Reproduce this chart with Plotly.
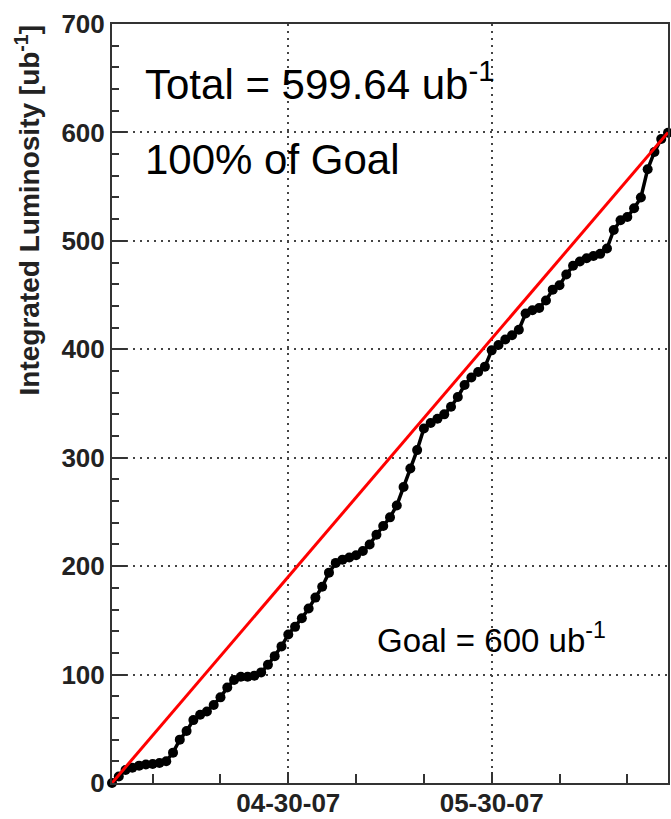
import datetime as dt
import plotly.graph_objects as go

# Daily integrated luminosity (ub^-1), one point per day starting 04-04-07
start_date = "2007-04-04"
lumi = [0, 6, 12, 14, 16, 17, 17.5, 18.5, 20, 28,
        40, 48, 58, 63, 66, 72, 79, 88, 95, 98,
        98, 99, 102, 109, 117, 126, 137, 144, 152, 161,
        171, 181, 194, 203, 206, 208, 210, 214, 220, 229,
        237, 245, 256, 273, 290, 307, 327, 332, 336, 340,
        347, 356, 367, 374, 379, 384, 399, 404, 409, 413,
        418, 433, 436, 438, 445, 455, 459, 469, 477, 481,
        484, 486, 488, 493, 510, 519, 522, 530, 540, 566,
        582, 594, 599.64]
goal = 600
total = 599.64
end_date = "2007-06-25"

labelled_ticks = ["2007-04-30", "2007-05-30"]
labelled_text = ["04-30-07", "05-30-07"]
minor_ticks = ["2007-04-10", "2007-04-20", "2007-04-30", "2007-05-10",
               "2007-05-20", "2007-05-30", "2007-06-09", "2007-06-19"]

t0 = dt.date.fromisoformat(start_date)
dates = [(t0 + dt.timedelta(days=i)).isoformat() for i in range(len(lumi))]

FONT = "Liberation Sans, Arial, Helvetica, sans-serif"
AXIS_COL = "#333333"

fig = go.Figure()
fig.add_trace(go.Scatter(
    x=dates, y=lumi, mode="lines+markers",
    line=dict(color="black", width=3.5),
    marker=dict(color="black", size=10),
    cliponaxis=False, showlegend=False,
))
fig.add_trace(go.Scatter(
    x=[start_date, end_date], y=[0, goal], mode="lines",
    line=dict(color="#ff0000", width=3),
    showlegend=False,
))

fig.update_layout(
    width=671, height=819,
    margin=dict(l=112, r=3, t=24, b=36),
    paper_bgcolor="white", plot_bgcolor="white",
    font=dict(family=FONT, color="black"),
    xaxis=dict(
        type="date", range=[start_date, end_date], automargin=False,
        tickmode="array", tickvals=labelled_ticks, ticktext=labelled_text,
        ticks="inside", ticklen=11, tickwidth=2, tickcolor=AXIS_COL,
        tickfont=dict(size=26, family=FONT, weight="bold", color="#222"),
        ticklabelstandoff=-4,
        showgrid=True, gridcolor="#444", gridwidth=2, griddash="2px,5px",
        minor=dict(tickmode="array", tickvals=minor_ticks, ticks="inside",
                   ticklen=9, tickwidth=2, tickcolor=AXIS_COL, showgrid=False),
        showline=True, linecolor=AXIS_COL, linewidth=2, mirror=True,
        zeroline=False,
    ),
    yaxis=dict(
        range=[0, 700], tick0=0, dtick=100, automargin=False,
        ticks="inside", ticklen=15, tickwidth=2, tickcolor=AXIS_COL,
        tickfont=dict(size=26, family=FONT, weight="bold", color="#222"),
        showgrid=True, gridcolor="#444", gridwidth=2, griddash="2px,5px",
        minor=dict(dtick=20, ticks="inside", ticklen=7, tickwidth=2,
                   tickcolor=AXIS_COL, showgrid=False),
        showline=True, linecolor=AXIS_COL, linewidth=2, mirror=True,
        zeroline=False,
    ),
    annotations=[
        dict(text="Integrated Luminosity [ub<sup>-1</sup>]",
             xref="paper", yref="paper", x=-0.152, y=0.755,
             textangle=-90, showarrow=False, xanchor="center", yanchor="middle",
             font=dict(size=28, family=FONT, weight="bold", color="#222")),
        dict(text=f"Total = {total:.2f} ub<sup>-1</sup>",
             xref="paper", yref="paper", x=0.056, y=0.925,
             showarrow=False, xanchor="left", yanchor="middle",
             font=dict(size=42, family=FONT)),
        dict(text=f"{round(100 * total / goal)}% of Goal",
             xref="paper", yref="paper", x=0.056, y=0.822,
             showarrow=False, xanchor="left", yanchor="middle",
             font=dict(size=42, family=FONT)),
        dict(text=f"Goal = {goal} ub<sup>-1</sup>",
             xref="paper", yref="paper", x=0.473, y=0.191,
             showarrow=False, xanchor="left", yanchor="middle",
             font=dict(size=33, family=FONT)),
    ],
)

fig.write_html("out.html")
